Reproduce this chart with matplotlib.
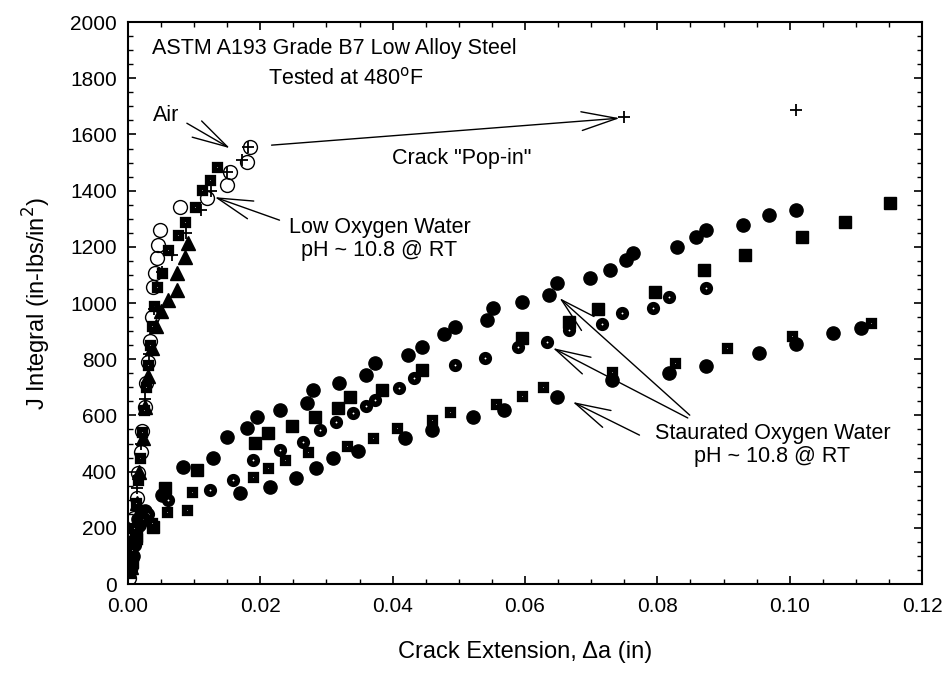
import numpy as np
import matplotlib
matplotlib.use('Agg')
import matplotlib.pyplot as plt
from matplotlib.ticker import MultipleLocator

plt.rcParams['font.family'] = ['Liberation Sans', 'DejaVu Sans']

# ---- data ----
# Air (open circles)
air_o_x = [0.0002, 0.0004, 0.0007, 0.0009, 0.0013, 0.0015, 0.0019, 0.0021, 0.0025, 0.0027,
           0.0031, 0.0033, 0.0036, 0.0038, 0.0041, 0.0044, 0.0045, 0.0048, 0.0078, 0.0119,
           0.0149, 0.0154, 0.0180, 0.0184]
air_o_y = [20, 85, 150, 235, 305, 395, 470, 545, 630, 715, 790, 865, 950, 1057, 1106, 1160,
           1206, 1260, 1341, 1373, 1420, 1466, 1502, 1555]
# Air (crosses) incl. pop-in points
air_p_x = [0.0003, 0.0008, 0.0014, 0.0020, 0.0026, 0.0032, 0.0040, 0.0052, 0.0066, 0.0088,
           0.0110, 0.0125, 0.0149, 0.0172, 0.0181, 0.075, 0.101]
air_p_y = [40, 180, 340, 500, 660, 820, 980, 1110, 1170, 1250, 1330, 1400, 1466, 1508, 1555,
           1662, 1687]

# Low oxygen water (filled squares, filled triangles)
low_s_x = [0.0003, 0.0006, 0.0009, 0.0012, 0.0015, 0.0018, 0.0021, 0.0024, 0.0027, 0.0030,
           0.0033, 0.0036, 0.0040, 0.0044, 0.0051, 0.0060, 0.0075, 0.0086, 0.0101, 0.0112,
           0.0124, 0.0134]
low_s_y = [40, 120, 200, 290, 370, 450, 540, 620, 700, 780, 850, 920, 990, 1057, 1106, 1188,
           1242, 1288, 1341, 1402, 1437, 1484]
low_t_x = [0.0004, 0.0008, 0.0013, 0.0017, 0.0022, 0.0026, 0.0031, 0.0036, 0.0042, 0.0050,
           0.0060, 0.0074, 0.0074, 0.0086, 0.0090]
low_t_y = [60, 170, 290, 400, 520, 630, 740, 840, 920, 970, 1010, 1046, 1106, 1163, 1213]

# Saturated oxygen water, three specimens
sat1_x = [0.0005, 0.0010, 0.0015, 0.0025, 0.0051, 0.0083, 0.0128, 0.0149, 0.0180, 0.0195,
          0.0230, 0.0270, 0.0280, 0.0319, 0.0359, 0.0374, 0.0423, 0.0444, 0.0477, 0.0494,
          0.0542, 0.0551, 0.0596, 0.0637, 0.0648, 0.0698, 0.0728, 0.0753, 0.0763, 0.0829,
          0.0859, 0.0874, 0.0929, 0.0969, 0.1010]
sat1_y = [60, 150, 230, 260, 317, 416, 448, 523, 555, 594, 619, 644, 690, 715, 744, 786, 815,
          843, 890, 914, 939, 982, 1003, 1028, 1071, 1089, 1117, 1153, 1178, 1199, 1235, 1260,
          1277, 1313, 1331]
sat1s_x = [0.0006, 0.0012, 0.0020, 0.0038, 0.0056, 0.0104, 0.0192, 0.0211, 0.0248, 0.0282,
           0.0317, 0.0335, 0.0384, 0.0445, 0.0596, 0.0667, 0.0710, 0.0796, 0.0871, 0.0932,
           0.1018, 0.1083, 0.1152]
sat1s_y = [80, 170, 240, 203, 342, 406, 502, 537, 562, 594, 626, 665, 690, 761, 875, 932,
           978, 1039, 1117, 1171, 1235, 1288, 1356]
sat2_x = [0.0004, 0.0011, 0.0019, 0.0030, 0.0060, 0.0124, 0.0159, 0.0189, 0.0230, 0.0264,
          0.0290, 0.0314, 0.0340, 0.0359, 0.0374, 0.0409, 0.0433, 0.0494, 0.0539, 0.0589,
          0.0633, 0.0667, 0.0717, 0.0747, 0.0793, 0.0818, 0.0874]
sat2_y = [50, 140, 220, 250, 300, 334, 370, 441, 477, 505, 548, 576, 608, 633, 655, 697, 733,
          779, 804, 843, 861, 904, 925, 964, 982, 1021, 1053]
sat3s_x = [0.0005, 0.0013, 0.0022, 0.0036, 0.0059, 0.0089, 0.0097, 0.0189, 0.0211, 0.0237,
           0.0272, 0.0331, 0.0371, 0.0406, 0.0460, 0.0486, 0.0556, 0.0596, 0.0627, 0.0732,
           0.0826, 0.0906, 0.1003, 0.1123]
sat3s_y = [70, 160, 230, 217, 256, 263, 327, 381, 413, 441, 470, 491, 519, 555, 583, 612,
           640, 669, 701, 754, 786, 840, 882, 929]
sat3_x = [0.0007, 0.0016, 0.0169, 0.0214, 0.0254, 0.0284, 0.0310, 0.0347, 0.0418, 0.0460,
          0.0522, 0.0569, 0.0648, 0.0732, 0.0818, 0.0873, 0.0953, 0.1009, 0.1065, 0.1108]
sat3_y = [100, 210, 324, 345, 377, 413, 448, 473, 519, 548, 594, 619, 665, 726, 751, 776,
          822, 854, 893, 911]

fig = plt.figure(figsize=(9.48, 6.73), dpi=100)
ax = fig.add_axes([0.135, 0.1322, 0.8376, 0.835])

ms = 9.5
ax.plot(sat1_x, sat1_y, 'o', color='k', ms=ms, mec='k')
ax.plot(sat1s_x, sat1s_y, 's', color='k', ms=ms - 1, mec='k')
ax.plot(sat2_x, sat2_y, 'o', mfc='white', mec='k', ms=5.5, mew=4)
ax.plot(sat3s_x, sat3s_y, 's', mfc='white', mec='k', ms=5, mew=3.8)
ax.plot(sat3_x, sat3_y, 'o', color='k', ms=ms, mec='k')
ax.plot(low_t_x, low_t_y, '^', color='k', ms=ms, mec='k')
ax.plot(low_s_x, low_s_y, 's', mfc='white', mec='k', ms=5, mew=3.8)
ax.plot(air_o_x, air_o_y, 'o', mfc='none', mec='k', ms=10, mew=1.0)
ax.plot(air_p_x, air_p_y, '+', color='k', ms=9, mew=1.3)

ax.set_xlim(0, 0.12)
ax.set_ylim(0, 2000)
ax.xaxis.set_major_locator(MultipleLocator(0.02))
ax.xaxis.set_minor_locator(MultipleLocator(0.005))
ax.yaxis.set_major_locator(MultipleLocator(200))
ax.yaxis.set_minor_locator(MultipleLocator(50))
ax.xaxis.set_major_formatter(plt.FuncFormatter(lambda v, p: '%.2f' % v))
ax.tick_params(which='both', direction='in', top=True, right=True, labelsize=15)
ax.tick_params(which='major', length=6, width=1.2)
ax.tick_params(which='minor', length=3.5, width=1)
ax.tick_params(axis='x', pad=9)
ax.tick_params(axis='y', pad=8)
for s in ax.spines.values():
    s.set_linewidth(1.5)

ax.set_xlabel('Crack Extension, \u0394a (in)', fontsize=17, labelpad=18)
ax.set_ylabel('J Integral (in-lbs/in$^2$)', fontsize=17, labelpad=12)

fs = 15.5
ax.text(0.0036, 1907, 'ASTM A193 Grade B7 Low Alloy Steel', fontsize=fs, va='center')
ax.text(0.0329, 1800, 'Tested at 480$^{\\mathrm{o}}$F', fontsize=fs, va='center', ha='center')

arr = dict(arrowstyle='->, head_length=1.7, head_width=0.45', color='k', lw=1.0,
           shrinkA=0, shrinkB=0, mutation_scale=15)
ax.text(0.0038, 1669, 'Air', fontsize=fs, va='center')
ax.annotate('', xy=(0.0154, 1551), xytext=(0.0089, 1640), arrowprops=arr)
ax.annotate('', xy=(0.0743, 1658), xytext=(0.0217, 1562), arrowprops=arr)
ax.text(0.0504, 1516, 'Crack "Pop-in"', fontsize=fs, va='center', ha='center')
ax.annotate('', xy=(0.0131, 1377), xytext=(0.0229, 1295), arrowprops=arr)
ax.text(0.038, 1270, 'Low Oxygen Water', fontsize=fs, va='center', ha='center')
ax.text(0.038, 1188, 'pH ~ 10.8 @ RT', fontsize=fs, va='center', ha='center')

for tip, tail in [((0.0652, 1018), (0.0849, 601)),
                  ((0.0642, 840), (0.0846, 591)),
                  ((0.0672, 648), (0.0773, 530))]:
    ax.annotate('', xy=tip, xytext=tail, arrowprops=arr)
ax.text(0.0974, 537, 'Staurated Oxygen Water', fontsize=fs, va='center', ha='center')
ax.text(0.0974, 455, 'pH ~ 10.8 @ RT', fontsize=fs, va='center', ha='center')

fig.savefig('out.png', dpi=100)
